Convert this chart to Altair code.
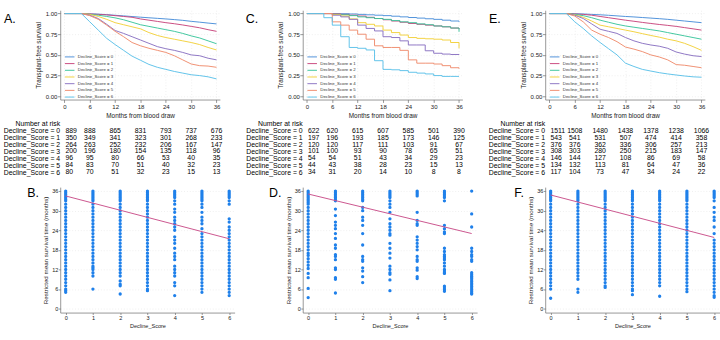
import altair as alt
import pandas as pd

FONT = "Liberation Sans"
GROUPS = [f"Decline_Score = {k}" for k in range(7)]
COLORS = ["#4a8fd9", "#c8467d", "#3cc59c", "#f2d13c", "#8b72c2", "#ef8d6e", "#5cc1e9"]

# ---- Kaplan-Meier curves: survival read at these months, one row per score ----
MONTHS = [0, 4, 6, 8, 10, 12, 14, 16, 18, 20, 22, 24, 26, 28, 30, 32, 34, 36]

SURV_A = [
    [1, 1, 0.997, 0.993, 0.987, 0.979, 0.972, 0.964, 0.956, 0.949, 0.942, 0.935, 0.927, 0.918, 0.906, 0.896, 0.885, 0.875],
    [1, 1, 0.995, 0.99, 0.984, 0.975, 0.965, 0.955, 0.935, 0.92, 0.905, 0.89, 0.877, 0.862, 0.845, 0.828, 0.805, 0.785],
    [1, 1, 0.99, 0.98, 0.965, 0.948, 0.925, 0.895, 0.865, 0.845, 0.825, 0.805, 0.785, 0.76, 0.73, 0.705, 0.67, 0.635],
    [1, 1, 0.99, 0.965, 0.93, 0.89, 0.865, 0.84, 0.815, 0.77, 0.735, 0.71, 0.69, 0.67, 0.65, 0.625, 0.59, 0.56],
    [1, 1, 0.98, 0.94, 0.87, 0.795, 0.76, 0.72, 0.68, 0.64, 0.6, 0.575, 0.555, 0.53, 0.5, 0.49, 0.46, 0.44],
    [1, 1, 0.975, 0.93, 0.86, 0.785, 0.72, 0.65, 0.61, 0.58, 0.555, 0.53, 0.49, 0.44, 0.39, 0.37, 0.365, 0.35],
    [1, 1, 0.9, 0.8, 0.7, 0.625, 0.555, 0.485, 0.435, 0.385, 0.35, 0.325, 0.3, 0.28, 0.26, 0.25, 0.235, 0.21],
]
SURV_C = [
    [1, 1, 1, 0.998, 0.995, 0.99, 0.985, 0.98, 0.975, 0.968, 0.96, 0.952, 0.945, 0.937, 0.93, 0.92, 0.91, 0.9],
    [1, 1, 0.995, 0.99, 0.98, 0.97, 0.955, 0.94, 0.925, 0.91, 0.895, 0.88, 0.87, 0.86, 0.85, 0.84, 0.825, 0.81],
    [1, 1, 0.99, 0.985, 0.975, 0.96, 0.95, 0.94, 0.93, 0.915, 0.9, 0.89, 0.875, 0.865, 0.85, 0.84, 0.825, 0.78],
    [1, 1, 0.99, 0.97, 0.935, 0.89, 0.87, 0.85, 0.8, 0.77, 0.74, 0.71, 0.7, 0.695, 0.69, 0.68, 0.65, 0.58],
    [1, 1, 0.98, 0.96, 0.93, 0.86, 0.82, 0.79, 0.72, 0.71, 0.67, 0.62, 0.62, 0.55, 0.52, 0.51, 0.505, 0.5],
    [1, 1, 0.9, 0.86, 0.8, 0.75, 0.69, 0.61, 0.59, 0.59, 0.555, 0.44, 0.4, 0.4, 0.39, 0.37, 0.345, 0.333],
    [1, 0.95, 0.86, 0.72, 0.59, 0.58, 0.56, 0.43, 0.325, 0.32, 0.31, 0.29, 0.28, 0.27, 0.25, 0.24, 0.24, 0.24],
]
SURV_E = [
    [1, 1, 0.998, 0.995, 0.99, 0.985, 0.979, 0.972, 0.965, 0.959, 0.952, 0.945, 0.938, 0.93, 0.92, 0.91, 0.9, 0.89],
    [1, 1, 0.995, 0.99, 0.98, 0.965, 0.95, 0.935, 0.92, 0.907, 0.893, 0.88, 0.868, 0.857, 0.845, 0.83, 0.815, 0.8],
    [1, 1, 0.99, 0.975, 0.95, 0.92, 0.895, 0.87, 0.85, 0.835, 0.82, 0.805, 0.79, 0.77, 0.75, 0.73, 0.71, 0.69],
    [1, 1, 0.985, 0.955, 0.91, 0.86, 0.84, 0.82, 0.8, 0.78, 0.757, 0.735, 0.715, 0.69, 0.67, 0.64, 0.6, 0.555],
    [1, 1, 0.98, 0.94, 0.875, 0.81, 0.785, 0.76, 0.71, 0.67, 0.64, 0.62, 0.605, 0.58, 0.535, 0.51, 0.49, 0.48],
    [1, 1, 0.97, 0.9, 0.8, 0.75, 0.71, 0.66, 0.595, 0.57, 0.54, 0.5, 0.475, 0.44, 0.383, 0.375, 0.36, 0.345],
    [1, 1, 0.9, 0.82, 0.73, 0.65, 0.575, 0.5, 0.4, 0.36, 0.325, 0.305, 0.285, 0.27, 0.257, 0.245, 0.235, 0.23],
]

# ---- Number at risk ----
RISK_MONTHS = [0, 6, 12, 18, 24, 30, 36]
RISK_A = [
    [889, 888, 865, 831, 793, 737, 676],
    [350, 349, 341, 323, 301, 268, 233],
    [264, 263, 252, 232, 206, 167, 147],
    [200, 196, 180, 154, 135, 118, 96],
    [96, 95, 80, 66, 53, 40, 35],
    [84, 83, 70, 51, 40, 32, 23],
    [80, 70, 51, 32, 23, 15, 13],
]
RISK_C = [
    [622, 620, 615, 607, 585, 501, 390],
    [197, 196, 193, 185, 173, 146, 125],
    [120, 120, 117, 111, 103, 91, 67],
    [101, 100, 93, 90, 78, 65, 51],
    [54, 54, 51, 43, 34, 29, 23],
    [44, 43, 38, 28, 23, 15, 13],
    [34, 31, 20, 14, 10, 8, 8],
]
RISK_E = [
    [1511, 1508, 1480, 1438, 1378, 1238, 1066],
    [543, 541, 531, 507, 474, 414, 358],
    [376, 376, 362, 336, 306, 257, 213],
    [308, 303, 280, 250, 215, 183, 147],
    [146, 144, 127, 108, 86, 69, 58],
    [134, 132, 113, 81, 64, 47, 36],
    [117, 104, 73, 47, 34, 24, 22],
]

# ---- Restricted mean survival time per patient, grouped by Decline_Score 0..6 ----
RMST_B = [
    [36, 35.5, 35, 34.5, 34, 33.5, 33, 32, 31, 30, 29, 28, 27, 26, 25, 24, 23, 22, 21, 20, 19, 18, 17, 16, 15, 14, 13, 12, 11, 10, 9, 8, 7, 6, 5.5, 5],
    [36, 35.5, 35, 34.5, 34, 33.5, 33, 32, 31, 30, 29, 28, 27, 26, 25, 24, 23, 22, 21, 20, 19, 18, 17, 16, 15, 14, 13, 12.5, 12, 11, 10, 6],
    [36, 35.5, 35, 34.5, 34, 33.5, 33, 32, 31, 30, 29, 28, 27, 26, 25, 24, 23, 22, 21, 20, 19, 18, 17, 16, 15, 14, 13, 12, 11, 10, 8.5, 7.5, 7, 4.5],
    [36, 35.5, 35, 34.5, 34, 33.5, 33, 32, 31, 30, 29, 28, 27, 26, 25, 24, 23, 22, 21, 20, 19, 18, 17, 16, 15, 14, 13, 12, 11, 10, 9, 8, 7, 6, 5.5],
    [36, 35.5, 35, 34.5, 34, 33, 32, 30.5, 29.5, 28, 27, 26, 25, 24, 22, 21, 20, 18.5, 17, 16, 15, 13, 12, 11, 10, 8, 7, 4],
    [36, 35.5, 35, 34.5, 34, 33.5, 33, 32, 31, 29.5, 28, 27, 26, 24.5, 23, 22, 21, 20, 19, 18, 17, 16, 15, 14, 13, 12, 11, 10, 9, 8, 7, 6, 5],
    [36, 35.5, 35, 34.5, 34, 33, 32, 27.5, 26.5, 25, 24, 23, 22, 21, 20, 19, 18, 17, 16, 15, 14, 13, 12, 11, 10, 9, 8, 7, 6, 5, 4],
]
RMST_D = [
    [36, 35.5, 35, 34.5, 34, 33.5, 33, 32.5, 32, 31, 30, 29, 28, 27, 26, 25, 24, 23, 22, 21, 20, 19, 18, 17, 16.3, 15.3, 14.3, 13.3, 12.3, 10.8, 9.5, 6.2, 3.4],
    [36, 35.5, 35, 34.5, 34, 33.5, 33, 30.5, 28.5, 26.5, 25.5, 24.5, 23, 21.5, 19.5, 18.5, 16.5, 16, 15, 12.5, 12, 9.5, 9, 4.8],
    [36, 35.5, 35, 34.5, 34, 33.5, 33, 31, 30, 28, 27, 25.5, 23, 19.5, 16, 15, 14.5, 12.5, 11.5, 9.8, 8],
    [36, 35.5, 35, 34.5, 34, 33, 32, 31, 29.5, 27.5, 26, 25, 24, 23, 22.5, 20, 18.5, 17, 15.5, 13, 12, 11, 10.5, 8.8, 5.5],
    [36, 35.5, 35, 34.5, 29.5, 27, 26, 25.5, 22, 21, 20, 19, 18, 16, 15, 14.5, 12.5, 11.8, 9.8, 9.2],
    [36, 35.5, 35, 34.5, 34, 33, 25.5, 24.5, 23.5, 23, 18.5, 17.5, 16.5, 16, 15.5, 15, 14, 13, 12, 11.5, 11, 10.8, 6.9, 6.3, 5.8, 5.3],
    [36, 29, 25, 18.5, 17.5, 16.5, 16, 15, 14.5, 11, 10.5, 10, 9.7, 9.3, 8.8, 8.3, 7.8, 7.3, 6.8, 6.3, 5.8, 5.3, 4.8, 4.5],
]
RMST_F = [
    [36, 35.5, 35, 34.5, 34, 33.5, 33, 32, 31, 30, 29, 28, 27, 26, 25, 24, 23, 22, 21, 20, 19, 18, 17, 16, 15, 14, 13, 12, 11, 10, 9, 8, 7, 6, 3.2],
    [36, 35.5, 35, 34.5, 34, 33.5, 33, 32, 31, 30, 29, 28, 27, 26, 25, 24, 23, 22, 21, 20, 19, 18, 17, 16, 15, 14, 13, 12, 11, 10, 9, 6, 5],
    [36, 35.5, 35, 34.5, 34, 33.5, 33, 32, 31, 30, 29, 28, 27, 26, 25, 24, 23, 22, 21, 20, 19, 18, 17, 16, 15, 14, 13, 12, 11, 10, 9, 8, 7, 6.5],
    [36, 35.5, 35, 34.5, 34, 33.5, 33, 32, 31, 30, 29, 28, 27, 26, 25, 24, 23, 22, 21, 20, 19, 18, 17, 16, 15, 14, 13, 12, 11, 10, 9, 8, 7, 6, 5.5, 4.3],
    [36, 35.5, 35, 34.5, 34, 33.5, 33, 32, 31, 30, 29, 28, 27, 26, 25, 24, 23, 22, 21, 20, 19, 18, 17, 16, 15, 14, 13, 12, 11, 10, 9, 8, 7, 3.8],
    [36, 35.5, 35, 34.5, 34, 33.5, 33, 32, 31, 30, 29, 28, 27, 26, 25, 24, 23, 22, 21, 20, 19, 18, 17, 16, 15, 14, 13, 12, 11, 10, 9, 8, 7, 6, 5.2],
    [36, 35.5, 35, 34.5, 34, 33, 31, 29.5, 28, 27, 25, 23, 21, 20, 19, 18, 17, 16, 15, 14, 13, 12, 11, 10, 9, 8, 7, 6, 5, 4, 3.5],
]
# fitted linear trend, value at Decline_Score 0 and 6
FIT_B = [34.5, 21.4]
FIT_D = [35.1, 23.0]
FIT_F = [34.8, 21.8]

# ---- geometry ----
KM_W, KM_H = 167, 93.4
KM_X = alt.Scale(domain=[-1, 36.8], nice=False, zero=False)
KM_Y = alt.Scale(domain=[-0.04, 1.04], nice=False, zero=False)
SC_W, SC_H = 182.4, 131.2
TAB_H = 58.3
TAB_FONT = 7.2
AXIS_GREY = "#666666"
TXT = "#1a1a1a"


def letter_title(text, offset, dy):
    # panel letter sits left of the y-axis title, level with the top of the plot
    return alt.TitleParams(text=text, orient="left", anchor="end", frame="group", angle=0,
                           align="left", baseline="top", offset=offset, dy=dy, fontSize=13,
                           font=FONT, fontWeight="normal", color="black")


def km_panel(letter, surv, interp):
    rows = [{"month": m, "surv": s, "group": g}
            for g, vals in zip(GROUPS, surv) for m, s in zip(MONTHS, vals)]
    df = pd.DataFrame(rows)
    return alt.Chart(df).mark_line(strokeWidth=1, interpolate=interp).encode(
        x=alt.X("month:Q", scale=KM_X,
                axis=alt.Axis(values=RISK_MONTHS, title="Months from blood draw", tickSize=3,
                              labelPadding=1.3, titlePadding=3, labelFontSize=6.3,
                              titleFontSize=6.7, grid=True, labelFlush=False,
                              labelOverlap=False)),
        y=alt.Y("surv:Q", scale=KM_Y,
                axis=alt.Axis(values=[0, 0.25, 0.5, 0.75, 1], format=".2f",
                              title="Transplant-free survival", tickSize=3, labelPadding=0.5,
                              titlePadding=4, labelFontSize=6.3, titleFontSize=6.7, grid=True,
                              labelFlush=False, labelOverlap=False)),
        color=alt.Color("group:N", scale=alt.Scale(domain=GROUPS, range=COLORS),
                        legend=alt.Legend(orient="none", legendX=7.4, legendY=46.3, title=None,
                                          labelFontSize=4.5, labelFont=FONT, labelColor="#333333",
                                          symbolType="M-2.5,0H2.5", symbolSize=16,
                                          symbolStrokeWidth=1, rowPadding=1, labelOffset=6,
                                          padding=0, labelLimit=200)),
    ).properties(width=KM_W, height=KM_H, title=letter_title(letter, 20.8, 3.3))


def risk_panel(risk):
    rows = [{"month": m, "n": n, "row": g}
            for g, counts in zip(GROUPS, risk) for m, n in zip(RISK_MONTHS, counts)]
    df = pd.DataFrame(rows)
    base = alt.Chart(df).encode(
        x=alt.X("month:Q", scale=KM_X, axis=None),
        y=alt.Y("row:N", scale=alt.Scale(domain=["Number at risk"] + GROUPS),
                axis=alt.Axis(title=None, domain=False, ticks=False, tickSize=0, grid=False,
                              labelPadding=0.6, labelFontSize=TAB_FONT, labelFont=FONT,
                              labelColor="black", labelOverlap=False)),
        text="n:Q",
    )
    first = base.transform_filter("datum.month == 0").mark_text(
        align="left", dx=1, fontSize=TAB_FONT, font=FONT, color="black")
    rest = base.transform_filter("datum.month > 0").mark_text(
        align="center", fontSize=TAB_FONT, font=FONT, color="black")
    return alt.layer(first, rest).properties(width=KM_W, height=TAB_H)


def rmst_panel(letter, cols, fit):
    rows = [{"score": k, "rmst": v} for k, vals in enumerate(cols) for v in vals]
    df = pd.DataFrame(rows)
    xs = alt.Scale(domain=[-0.2, 6.2], nice=False, zero=False)
    ys = alt.Scale(domain=[-1.2, 37.2], nice=False, zero=False)
    x_axis = alt.Axis(values=[0, 1, 2, 3, 4, 5, 6], format="d", title="Decline_Score",
                      tickSize=2, labelPadding=0, titlePadding=3.3, labelFontSize=5.8,
                      titleFontSize=5.8, grid=False, labelFlush=False, labelOverlap=False)
    y_axis = alt.Axis(values=[0, 6, 12, 18, 24, 30, 36],
                      title="Restricted mean survival time (months)", tickSize=2,
                      labelPadding=0.5, titlePadding=3, labelFontSize=5.8, titleFontSize=6.5,
                      grid=True, labelFlush=False, labelOverlap=False)
    pts = alt.Chart(df).mark_circle(size=12, color="#1f80ea", opacity=1).encode(
        x=alt.X("score:Q", scale=xs, axis=x_axis),
        y=alt.Y("rmst:Q", scale=ys, axis=y_axis),
    )
    fit_df = pd.DataFrame({"score": [0, 6], "rmst": fit})
    trend = alt.Chart(fit_df).mark_line(color="#c9508a", strokeWidth=1).encode(
        x=alt.X("score:Q", scale=xs, axis=x_axis),
        y=alt.Y("rmst:Q", scale=ys, axis=y_axis))
    return alt.layer(pts, trend).properties(width=SC_W, height=SC_H,
                                            title=letter_title(letter, 4.2, 0.5))


def column(km, tab, sc):
    top = alt.vconcat(km, tab, spacing=0).resolve_scale(color="independent").resolve_legend(color="independent")
    return alt.vconcat(top, sc, spacing=11).resolve_scale(color="independent").resolve_legend(color="independent")


col_a = column(km_panel("A.", SURV_A, "linear"), risk_panel(RISK_A), rmst_panel("B.", RMST_B, FIT_B))
col_c = column(km_panel("C.", SURV_C, "step-after"), risk_panel(RISK_C), rmst_panel("D.", RMST_D, FIT_D))
col_e = column(km_panel("E.", SURV_E, "linear"), risk_panel(RISK_E), rmst_panel("F.", RMST_F, FIT_F))

chart = (
    alt.hconcat(col_a, col_c, col_e, spacing=10.6)
    .resolve_scale(color="independent")
    .resolve_legend(color="independent")
    .properties(padding={"left": 3, "top": 3, "right": 0, "bottom": 0}, background="white")
    .configure_view(stroke=None)
    .configure_axis(labelFont=FONT, titleFont=FONT, labelColor=TXT, titleColor=TXT,
                    titleFontWeight="normal", domainColor=AXIS_GREY, tickColor=AXIS_GREY,
                    domainWidth=0.7, tickWidth=0.7, gridColor="#e2e2e2", gridDash=[1, 2],
                    gridWidth=0.6)
)

chart.save("out.html", embed_options={"renderer": "svg", "actions": False})
